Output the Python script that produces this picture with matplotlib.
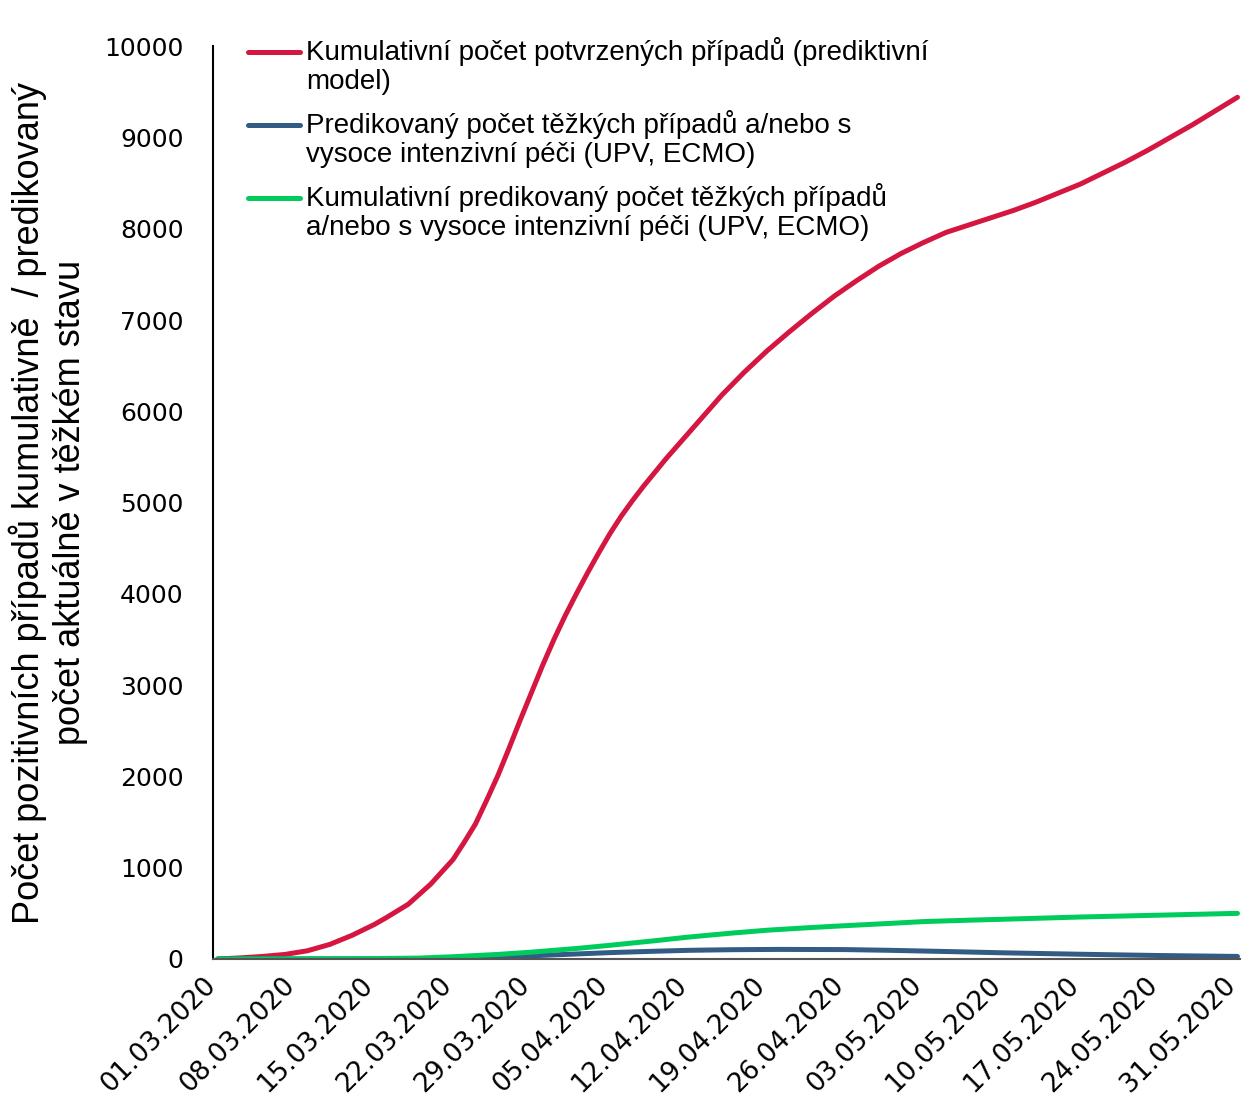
import matplotlib.pyplot as plt
from matplotlib.lines import Line2D
from matplotlib.transforms import ScaledTranslation

# days since 01.03.2020
red_days = [0, 2, 4, 6, 8, 10, 12, 14, 15, 17, 19, 21, 22, 23, 24, 25, 26, 27, 28, 29,
            30, 31, 32, 33, 34, 35, 36, 37, 38, 39, 40, 41, 43, 45, 47, 49, 51, 53, 55,
            57, 59, 61, 63, 65, 67, 69, 71, 73, 75, 77, 79, 81, 83, 85, 87, 89, 91]
red_vals = [0, 12, 28, 50, 90, 160, 260, 380, 450, 600, 820, 1090, 1280, 1480, 1740,
            2010, 2310, 2620, 2920, 3220, 3500, 3760, 4000, 4230, 4450, 4660, 4850, 5020,
            5180, 5330, 5480, 5620, 5900, 6180, 6430, 6660, 6870, 7070, 7260, 7430, 7590,
            7730, 7850, 7960, 8040, 8120, 8200, 8290, 8390, 8490, 8610, 8730, 8860, 9000,
            9140, 9290, 9440]

blue_days = [0, 7, 14, 18, 21, 25, 28, 32, 35, 39, 42, 46, 50, 56, 60, 65, 70, 77, 84, 91]
blue_vals = [0, 0, 0, 2, 5, 20, 35, 55, 70, 85, 95, 102, 105, 103, 95, 82, 68, 52, 38, 28]

green_days = [0, 7, 14, 18, 21, 25, 28, 32, 35, 39, 42, 46, 49, 53, 56, 60, 63, 67, 70,
              77, 84, 91]
green_vals = [0, 2, 5, 10, 25, 50, 75, 115, 150, 200, 240, 285, 315, 345, 365, 390, 410,
              425, 435, 460, 480, 500]

tick_days = list(range(0, 92, 7))
tick_labels = ['01.03.2020', '08.03.2020', '15.03.2020', '22.03.2020', '29.03.2020',
               '05.04.2020', '12.04.2020', '19.04.2020', '26.04.2020', '03.05.2020',
               '10.05.2020', '17.05.2020', '24.05.2020', '31.05.2020']

labels = ['Kumulativní počet potvrzených případů (prediktivní\nmodel)',
          'Predikovaný počet těžkých případů a/nebo s\nvysoce intenzivní péči (UPV, ECMO)',
          'Kumulativní predikovaný počet těžkých případů\na/nebo s vysoce intenzivní péči (UPV, ECMO)']
colors = ['#D51641', '#335C85', '#00CC5E']

fig = plt.figure(figsize=(12.44, 11.07), dpi=100)
ax = fig.add_axes([0.171, 0.1337, 0.826, 0.8246])

ax.plot(red_days, red_vals, color=colors[0], lw=3.6, solid_capstyle='round', solid_joinstyle='round')
ax.plot(blue_days, blue_vals, color=colors[1], lw=3.6, solid_capstyle='round', solid_joinstyle='round')
ax.plot(green_days, green_vals, color=colors[2], lw=3.6, solid_capstyle='round', solid_joinstyle='round')

ax.set_xlim(-0.45, 91.25)
ax.set_ylim(0, 10000)
ax.set_yticks(range(0, 10001, 1000))
ax.tick_params(axis='y', length=0, pad=21, labelsize=18)
ax.set_xticks(tick_days)
ax.set_xticklabels(tick_labels, rotation=45, ha='right', va='center',
                   rotation_mode='anchor', fontsize=19)
ax.tick_params(axis='x', length=0, pad=16)
# nudge the date labels a little to the left
shift = ScaledTranslation(-4 / 72, 0, fig.dpi_scale_trans)
for lbl in ax.get_xticklabels():
    lbl.set_transform(lbl.get_transform() + shift)

for s in ['top', 'right']:
    ax.spines[s].set_visible(False)
ax.spines['left'].set_linewidth(1.5)
ax.spines['bottom'].set_color('#555555')
ax.spines['bottom'].set_linewidth(1.5)

ax.set_ylabel('Počet pozitivních případů kumulativně  / predikovaný\npočet aktuálně v těžkém stavu',
              fontsize=26, family='Liberation Sans', linespacing=1.2, labelpad=12)

# legend drawn by hand so each handle sits on the first text line
rows = [0.9934, 0.9135, 0.8335]
for y, lab, c in zip(rows, labels, colors):
    ax.add_line(Line2D([0.034, 0.085], [y, y], transform=ax.transAxes, color=c,
                       lw=3.6, solid_capstyle='round', clip_on=False))
    ax.text(0.0906, y + 0.0165, lab, transform=ax.transAxes, va='top', ha='left',
            fontsize=20, family='Liberation Sans', linespacing=1.15, clip_on=False)

fig.savefig('out.png', dpi=100)
